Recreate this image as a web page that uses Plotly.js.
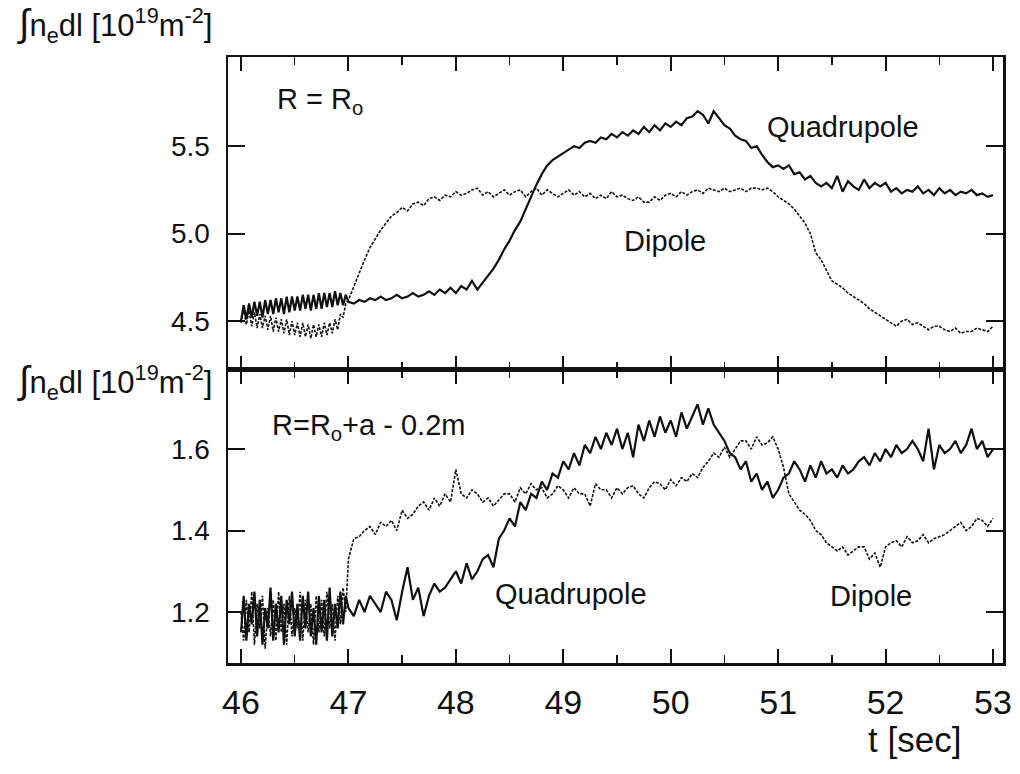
<!DOCTYPE html>
<html>
<head>
<meta charset="utf-8">
<script src="https://cdn.plot.ly/plotly-3.0.1.min.js"></script>
<style>html,body{margin:0;padding:0;background:#fff;}#chart{width:1020px;height:774px;}</style>
</head>
<body>
<div id="chart"></div>
<script>
// ---- time samples [s] ----
const tEarly = [46,46.025,46.05,46.075,46.1,46.125,46.15,46.175,46.2,46.225,
  46.25,46.275,46.3,46.325,46.35,46.375,46.4,46.425,46.45,46.475,
  46.5,46.525,46.55,46.575,46.6,46.625,46.65,46.675,46.7,46.725,
  46.75,46.775,46.8,46.825,46.85,46.875,46.9,46.925,46.95,46.975];
const tMain = [47,47.05,47.1,47.15,47.2,47.25,47.3,47.35,47.4,47.45,
  47.5,47.55,47.6,47.65,47.7,47.75,47.8,47.85,47.9,47.95,
  48,48.05,48.1,48.15,48.2,48.25,48.3,48.35,48.4,48.45,
  48.5,48.55,48.6,48.65,48.7,48.75,48.8,48.85,48.9,48.95,
  49,49.05,49.1,49.15,49.2,49.25,49.3,49.35,49.4,49.45,
  49.5,49.55,49.6,49.65,49.7,49.75,49.8,49.85,49.9,49.95,
  50,50.05,50.1,50.15,50.2,50.25,50.3,50.35,50.4,50.45,
  50.5,50.55,50.6,50.65,50.7,50.75,50.8,50.85,50.9,50.95,
  51,51.05,51.1,51.15,51.2,51.25,51.3,51.35,51.4,51.45,
  51.5,51.55,51.6,51.65,51.7,51.75,51.8,51.85,51.9,51.95,
  52,52.05,52.1,52.15,52.2,52.25,52.3,52.35,52.4,52.45,
  52.5,52.55,52.6,52.65,52.7,52.75,52.8,52.85,52.9,52.95,
  53];

// ---- top panel: R = Ro  [10^19 m^-2] ----
const quadTopEarly = [4.50,4.59,4.51,4.60,4.52,4.61,4.53,4.61,4.52,4.62,
  4.54,4.62,4.54,4.63,4.55,4.63,4.54,4.64,4.55,4.64,
  4.56,4.64,4.56,4.65,4.57,4.65,4.56,4.65,4.57,4.66,
  4.57,4.66,4.58,4.66,4.58,4.67,4.59,4.66,4.59,4.65];
const quadTopMain = [4.61,4.60,4.62,4.61,4.63,4.62,4.64,4.62,4.63,4.65,
  4.63,4.64,4.66,4.64,4.65,4.67,4.65,4.68,4.66,4.69,
  4.66,4.70,4.68,4.73,4.68,4.72,4.76,4.80,4.85,4.91,
  4.96,5.02,5.07,5.14,5.22,5.28,5.34,5.39,5.42,5.44,
  5.46,5.48,5.50,5.49,5.52,5.53,5.52,5.55,5.54,5.57,
  5.55,5.58,5.56,5.59,5.57,5.61,5.58,5.62,5.59,5.63,
  5.61,5.64,5.62,5.66,5.67,5.70,5.68,5.63,5.70,5.66,
  5.62,5.60,5.56,5.54,5.53,5.49,5.50,5.45,5.41,5.38,
  5.39,5.37,5.39,5.34,5.35,5.31,5.33,5.29,5.27,5.29,
  5.26,5.33,5.24,5.30,5.27,5.25,5.31,5.26,5.29,5.27,
  5.29,5.24,5.26,5.23,5.25,5.24,5.27,5.23,5.25,5.22,
  5.26,5.23,5.25,5.22,5.24,5.23,5.25,5.22,5.23,5.21,
  5.22];
const dipTopEarly = [4.49,4.57,4.48,4.56,4.47,4.55,4.46,4.54,4.46,4.53,
  4.45,4.53,4.44,4.52,4.44,4.51,4.43,4.51,4.42,4.50,
  4.42,4.49,4.41,4.49,4.41,4.48,4.40,4.48,4.41,4.48,
  4.41,4.49,4.42,4.49,4.43,4.51,4.45,4.54,4.52,4.60];
const dipTopMain = [4.62,4.70,4.77,4.85,4.92,4.97,5.02,5.06,5.10,5.12,
  5.15,5.13,5.17,5.18,5.16,5.20,5.21,5.19,5.22,5.21,
  5.24,5.22,5.23,5.25,5.26,5.22,5.24,5.21,5.23,5.25,
  5.22,5.24,5.25,5.21,5.24,5.26,5.22,5.25,5.23,5.21,
  5.23,5.25,5.22,5.24,5.21,5.23,5.20,5.22,5.20,5.24,
  5.21,5.22,5.20,5.19,5.21,5.18,5.18,5.21,5.19,5.22,
  5.23,5.21,5.24,5.22,5.24,5.25,5.23,5.26,5.25,5.24,
  5.26,5.24,5.25,5.26,5.24,5.26,5.26,5.25,5.26,5.24,
  5.21,5.19,5.17,5.14,5.10,5.06,5.00,4.89,4.85,4.79,
  4.73,4.71,4.69,4.66,4.64,4.62,4.60,4.57,4.55,4.53,
  4.51,4.49,4.47,4.50,4.51,4.48,4.49,4.47,4.45,4.47,
  4.47,4.45,4.44,4.46,4.43,4.44,4.44,4.46,4.45,4.44,
  4.47];

// ---- bottom panel: R = Ro + a - 0.2 m ----
const quadBotEarly = [1.15,1.24,1.13,1.22,1.17,1.25,1.14,1.23,1.12,1.21,
  1.16,1.26,1.13,1.22,1.15,1.24,1.12,1.23,1.17,1.25,
  1.14,1.22,1.13,1.24,1.16,1.25,1.14,1.21,1.12,1.24,
  1.15,1.23,1.13,1.26,1.14,1.22,1.16,1.25,1.17,1.24];
const quadBotMain = [1.21,1.19,1.23,1.20,1.24,1.22,1.20,1.25,1.23,1.18,
  1.25,1.31,1.23,1.26,1.19,1.24,1.27,1.25,1.26,1.28,
  1.30,1.27,1.32,1.28,1.30,1.33,1.34,1.31,1.38,1.40,
  1.43,1.41,1.47,1.45,1.49,1.48,1.52,1.50,1.54,1.53,
  1.57,1.55,1.59,1.56,1.61,1.59,1.63,1.60,1.64,1.61,
  1.65,1.60,1.64,1.58,1.66,1.62,1.67,1.63,1.68,1.64,
  1.67,1.63,1.69,1.65,1.68,1.71,1.66,1.70,1.66,1.64,
  1.62,1.59,1.58,1.55,1.57,1.52,1.54,1.50,1.52,1.48,
  1.50,1.53,1.54,1.57,1.55,1.52,1.56,1.53,1.57,1.54,
  1.55,1.53,1.56,1.54,1.55,1.57,1.58,1.56,1.59,1.57,
  1.60,1.58,1.61,1.59,1.60,1.62,1.60,1.57,1.65,1.55,
  1.61,1.59,1.60,1.62,1.59,1.61,1.65,1.60,1.62,1.58,
  1.60];
const dipBotEarly = [1.20,1.13,1.23,1.15,1.25,1.12,1.22,1.16,1.24,1.11,
  1.21,1.14,1.23,1.13,1.25,1.15,1.22,1.12,1.24,1.14,
  1.21,1.16,1.25,1.13,1.23,1.15,1.22,1.12,1.24,1.15,
  1.23,1.14,1.25,1.16,1.22,1.13,1.24,1.17,1.26,1.20];
const dipBotMain = [1.33,1.38,1.385,1.40,1.41,1.39,1.42,1.41,1.425,1.40,
  1.45,1.43,1.44,1.46,1.47,1.45,1.48,1.46,1.49,1.47,
  1.55,1.49,1.48,1.50,1.49,1.47,1.48,1.46,1.475,1.49,
  1.49,1.47,1.505,1.49,1.515,1.50,1.505,1.48,1.49,1.51,
  1.50,1.48,1.505,1.49,1.49,1.46,1.515,1.50,1.50,1.48,
  1.505,1.49,1.505,1.51,1.49,1.48,1.505,1.52,1.515,1.50,
  1.525,1.51,1.53,1.52,1.54,1.53,1.555,1.57,1.59,1.58,
  1.605,1.58,1.60,1.62,1.62,1.60,1.63,1.61,1.615,1.63,
  1.60,1.555,1.49,1.47,1.45,1.44,1.425,1.40,1.39,1.37,
  1.36,1.35,1.36,1.34,1.35,1.36,1.36,1.33,1.345,1.31,
  1.36,1.37,1.375,1.36,1.385,1.37,1.375,1.39,1.37,1.38,
  1.385,1.39,1.40,1.41,1.42,1.40,1.41,1.43,1.425,1.41,
  1.43];

const xTickVals = [46,47,48,49,50,51,52,53];
const topTickVals = [4.5,5.0,5.5];
const botTickVals = [1.2,1.4,1.6];

const t = tEarly.concat(tMain);
const ink = '#111111';
const F = 'Liberation Sans, Arial, sans-serif';
const FN = 'Liberation Sans Narrow, Liberation Sans, Arial, sans-serif';

const traces = [
  {x: t, y: dipTopEarly.concat(dipTopMain), xaxis: 'x2', yaxis: 'y2', mode: 'lines',
   line: {color: ink, width: 1.6, dash: '3px,1.5px'}, name: 'Dipole'},
  {x: t, y: quadTopEarly.concat(quadTopMain), xaxis: 'x2', yaxis: 'y2', mode: 'lines',
   line: {color: ink, width: 2.2}, name: 'Quadrupole'},
  {x: t, y: dipBotEarly.concat(dipBotMain), xaxis: 'x', yaxis: 'y', mode: 'lines',
   line: {color: ink, width: 1.6, dash: '3px,1.5px'}, name: 'Dipole'},
  {x: t, y: quadBotEarly.concat(quadBotMain), xaxis: 'x', yaxis: 'y', mode: 'lines',
   line: {color: ink, width: 2.2}, name: 'Quadrupole'}
];

const xCommon = {
  range: [45.879, 53.093], showgrid: false, zeroline: false,
  showline: true, linecolor: ink, linewidth: 2.5, mirror: 'ticks',
  ticks: 'inside', ticklen: 14, tickwidth: 2, tickcolor: ink,
  tickvals: xTickVals,
  minor: {dtick: 0.5, tick0: 46, ticks: 'inside', ticklen: 8, tickwidth: 1.5, tickcolor: ink}
};
const yCommon = {
  showgrid: false, zeroline: false, showline: true, linecolor: ink, linewidth: 2.5,
  mirror: 'ticks', ticks: 'inside', ticklen: 17, tickwidth: 2, tickcolor: ink,
  tickformat: '.1f', ticklabelstandoff: 10,
  tickfont: {family: F, size: 28, color: ink}
};

const yTitle = '<span style="font-size:38px">∫</span>n<sub>e</sub>dl [10<sup>19</sup>m<sup>-2</sup>]';

const layout = {
  width: 1020, height: 774,
  margin: {l: 228, r: 17, t: 57, b: 111},
  paper_bgcolor: '#ffffff', plot_bgcolor: '#ffffff',
  showlegend: false,
  xaxis: Object.assign({}, xCommon, {anchor: 'y', domain: [0, 1],
    ticktext: xTickVals.map(String), ticklabelstandoff: 8,
    tickfont: {family: FN, size: 34, color: ink}}),
  xaxis2: Object.assign({}, xCommon, {anchor: 'y2', matches: 'x', showticklabels: false}),
  yaxis: Object.assign({}, yCommon, {anchor: 'x', domain: [0, 0.4835], range: [1.075, 1.794], tickvals: botTickVals}),
  yaxis2: Object.assign({}, yCommon, {anchor: 'x2', domain: [0.4835, 1], range: [4.22, 6.01], tickvals: topTickVals}),
  annotations: [
    {xref: 'paper', yref: 'paper', x: -0.275, y: 1.052, xanchor: 'left', yanchor: 'middle', showarrow: false,
     text: yTitle, font: {family: F, size: 31, color: ink}},
    {xref: 'paper', yref: 'paper', x: -0.275, y: 0.463, xanchor: 'left', yanchor: 'middle', showarrow: false,
     text: yTitle, font: {family: F, size: 31, color: ink}},
    {xref: 'x2', yref: 'y2', x: 46.32, y: 5.76, xanchor: 'left', yanchor: 'middle', showarrow: false,
     text: 'R = R<sub>o</sub>', font: {family: F, size: 29, color: ink}},
    {xref: 'x2', yref: 'y2', x: 50.88, y: 5.61, xanchor: 'left', yanchor: 'middle', showarrow: false,
     text: 'Quadrupole', font: {family: F, size: 29, color: ink}},
    {xref: 'x2', yref: 'y2', x: 49.55, y: 4.96, xanchor: 'left', yanchor: 'middle', showarrow: false,
     text: 'Dipole', font: {family: F, size: 29, color: ink}},
    {xref: 'x', yref: 'y', x: 46.27, y: 1.654, xanchor: 'left', yanchor: 'middle', showarrow: false,
     text: 'R=R<sub>o</sub>+a - 0.2m', font: {family: F, size: 29, color: ink}},
    {xref: 'x', yref: 'y', x: 48.35, y: 1.244, xanchor: 'left', yanchor: 'middle', showarrow: false,
     text: 'Quadrupole', font: {family: F, size: 29, color: ink}},
    {xref: 'x', yref: 'y', x: 51.46, y: 1.24, xanchor: 'left', yanchor: 'middle', showarrow: false,
     text: 'Dipole', font: {family: F, size: 29, color: ink}},
    {xref: 'paper', yref: 'paper', x: 0.823, y: -0.127, xanchor: 'left', yanchor: 'middle', showarrow: false,
     text: 't [sec]', font: {family: FN, size: 35, color: ink}}
  ]
};

Plotly.newPlot('chart', traces, layout, {displayModeBar: false, staticPlot: true});
</script>
</body>
</html>
